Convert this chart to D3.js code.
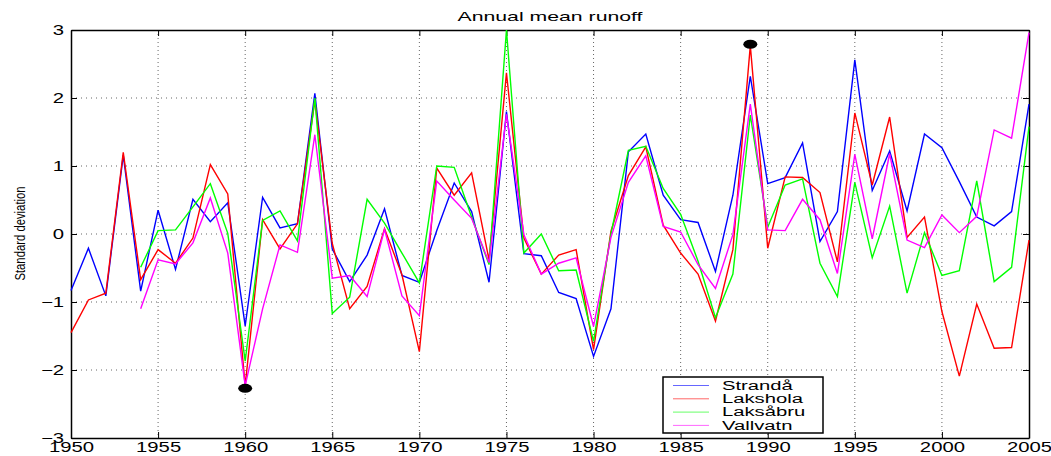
<!DOCTYPE html>
<html>
<head>
<meta charset="utf-8">
<script src="https://cdn.jsdelivr.net/npm/d3@7"></script>
<style>
  html, body { margin: 0; padding: 0; background: #fff; }
  svg { display: block; }
  text { font-family: "Liberation Sans", Arial, sans-serif; }
</style>
</head>
<body>
<svg id="chart" width="1051" height="456"></svg>
<script>
// Annual mean runoff, standardised, for four stations
const strandaYears = d3.range(1950, 2006);
const strandaValues = [
  -0.83, -0.21, -0.91, 1.16, -0.84, 0.35, -0.52, 0.51, 0.18, 0.46,
  -1.35, 0.54, 0.09, 0.15, 2.07, -0.22, -0.70, -0.31, 0.37, -0.61,
  -0.71, 0.05, 0.75, 0.33, -0.71, 1.80, -0.29, -0.32, -0.86, -0.95,
  -1.80, -1.10, 1.21, 1.47, 0.57, 0.21, 0.17, -0.55, 0.57, 2.32,
  0.74, 0.83, 1.34, -0.11, 0.33, 2.56, 0.64, 1.22, 0.34, 1.47,
  1.27, 0.77, 0.25, 0.12, 0.33, 1.91
];

const laksholaYears = d3.range(1950, 2006);
const laksholaValues = [
  -1.45, -0.97, -0.87, 1.20, -0.67, -0.23, -0.43, -0.06, 1.02, 0.59,
  -2.23, 0.21, -0.22, 0.15, 1.96, -0.14, -1.10, -0.77, 0.08, -0.60,
  -1.73, 0.97, 0.57, 0.90, -0.38, 2.37, -0.06, -0.59, -0.31, -0.23,
  -1.70, 0.04, 0.86, 1.28, 0.13, -0.28, -0.59, -1.28, -0.23, 2.77,
  -0.21, 0.84, 0.83, 0.61, -0.41, 1.78, 0.72, 1.72, -0.05, 0.25,
  -1.14, -2.09, -1.03, -1.68, -1.67, -0.09
];

const laksabruYears = d3.range(1954, 2006);
const laksabruValues = [
  -0.49, 0.05, 0.06, 0.40, 0.74, 0.01,
  -1.87, 0.20, 0.34, -0.10, 2.00, -1.17, -0.93, 0.51, 0.16, -0.28,
  -0.72, 1.00, 0.98, 0.25, -0.45, 3.00, -0.28, 0.00, -0.54, -0.53,
  -1.58, 0.00, 1.23, 1.29, 0.67, 0.29, -0.40, -1.23, -0.59, 1.75,
  0.10, 0.72, 0.81, -0.43, -0.92, 0.76, -0.35, 0.41, -0.87, 0.02,
  -0.61, -0.54, 0.78, -0.70, -0.49, 1.58
];

const vallvatnYears = d3.range(1954, 2006);
const vallvatnValues = [
  -1.10, -0.38, -0.44, -0.13, 0.53, -0.28,
  -2.23, -1.10, -0.16, -0.27, 1.46, -0.65, -0.61, -0.92, 0.07, -0.91,
  -1.20, 0.78, 0.50, 0.23, -0.42, 1.76, -0.01, -0.59, -0.43, -0.35,
  -1.36, -0.05, 0.76, 1.15, 0.11, 0.03, -0.45, -0.80, -0.01, 1.91,
  0.06, 0.05, 0.51, 0.21, -0.58, 1.17, -0.07, 1.18, -0.09, -0.20,
  0.28, 0.02, 0.26, 1.53, 1.41, 2.96
];

const seriesNames = ["Strandå", "Lakshola", "Laksåbru", "Vallvatn"];
const seriesColors = ["#0000ff", "#ff0000", "#00ff00", "#ff00ff"];

// Highlighted extremes
const extremeYears = [1960, 1989];
const extremeValues = [-2.27, 2.79];

const xTicks = [1950, 1955, 1960, 1965, 1970, 1975, 1980, 1985, 1990, 1995, 2000, 2005];
const yTicks = [-3, -2, -1, 0, 1, 2, 3];

const series = [
  { name: seriesNames[0], color: seriesColors[0], years: strandaYears, values: strandaValues },
  { name: seriesNames[1], color: seriesColors[1], years: laksholaYears, values: laksholaValues },
  { name: seriesNames[2], color: seriesColors[2], years: laksabruYears, values: laksabruValues },
  { name: seriesNames[3], color: seriesColors[3], years: vallvatnYears, values: vallvatnValues }
];

const svg = d3.select("#chart");
const margin = { left: 71, right: 22, top: 30, bottom: 18 };
const W = 1051, H = 456;
const iw = W - margin.left - margin.right;
const ih = H - margin.top - margin.bottom;

// The lettering is set in a horizontally widened face
const tickStretch = 1.45;
const legendStretch = 1.62;
const titleStretch = 1.7;

const x = d3.scaleLinear().domain([1950, 2005]).range([0, iw]);
const y = d3.scaleLinear().domain([-3, 3]).range([ih, 0]);

const g = svg.append("g").attr("transform", `translate(${margin.left},${margin.top})`);

// Dotted grid
g.append("g").selectAll("line").data(xTicks.slice(1, -1)).join("line")
  .attr("x1", d => x(d)).attr("x2", d => x(d))
  .attr("y1", 0).attr("y2", ih)
  .attr("stroke", "#666").attr("stroke-width", 1).attr("stroke-dasharray", "1,3");
g.append("g").selectAll("line").data(yTicks.slice(1, -1)).join("line")
  .attr("x1", 0).attr("x2", iw)
  .attr("y1", d => y(d)).attr("y2", d => y(d))
  .attr("stroke", "#666").attr("stroke-width", 1).attr("stroke-dasharray", "1,4");

// Axes with inward ticks on all four sides
const axB = d3.axisBottom(x).tickValues(xTicks).tickFormat(d3.format("d")).tickSizeInner(-6).tickSizeOuter(0).tickPadding(4);
const axL = d3.axisLeft(y).tickValues(yTicks).tickFormat(d => d < 0 ? "\u2212" + Math.abs(d) : d).tickSizeInner(-6).tickSizeOuter(0).tickPadding(7);
const axT = d3.axisTop(x).tickValues(xTicks).tickFormat("").tickSizeInner(-6).tickSizeOuter(0);
const axR = d3.axisRight(y).tickValues(yTicks).tickFormat("").tickSizeInner(-6).tickSizeOuter(0);

const gb = g.append("g").attr("transform", `translate(0,${ih})`).call(axB);
const gl = g.append("g").call(axL);
const gt = g.append("g").call(axT);
const gr = g.append("g").attr("transform", `translate(${iw},0)`).call(axR);

[gb, gl, gt, gr].forEach(a => {
  a.select(".domain").attr("stroke", "#000").attr("stroke-width", 1.5);
  a.selectAll(".tick line").attr("stroke", "#000").attr("stroke-width", 1);
  a.selectAll(".tick text").attr("fill", "#000").style("font-size", "14px")
    .style("font-family", "'Liberation Sans', Arial, sans-serif");
});
// widen tick lettering about its anchor point
gb.selectAll(".tick text").attr("transform", `scale(${tickStretch},1)`);
gl.selectAll(".tick text").each(function () {
  const t = d3.select(this);
  t.attr("x", +t.attr("x") / tickStretch).attr("transform", `scale(${tickStretch},1)`);
});

// Series lines
const line = d3.line().x(d => x(d[0])).y(d => y(d[1]));
g.append("g").selectAll("path").data(series).join("path")
  .attr("d", s => line(s.years.map((yr, i) => [yr, s.values[i]])))
  .attr("fill", "none")
  .attr("stroke", s => s.color)
  .attr("stroke-width", 1.4)
  .attr("stroke-linejoin", "miter");

// Extreme markers
g.append("g").selectAll("ellipse").data(extremeYears).join("ellipse")
  .attr("cx", d => x(d))
  .attr("cy", (d, i) => y(extremeValues[i]))
  .attr("rx", 7).attr("ry", 4.5)
  .attr("fill", "#000");

// Title
svg.append("text")
  .attr("transform", `translate(${margin.left + iw / 2},${21}) scale(${titleStretch},1)`)
  .attr("text-anchor", "middle")
  .style("font-size", "12.5px")
  .text("Annual mean runoff");

// Y-axis label (narrow lettering)
svg.append("text")
  .attr("transform", `translate(25,${margin.top + ih / 2 - 0.5}) rotate(-90) scale(0.73,1)`)
  .attr("text-anchor", "middle")
  .style("font-size", "15.5px")
  .text("Standard deviation");

// Legend
const lg = svg.append("g").attr("transform", "translate(663,377)");
lg.append("rect").attr("width", 160).attr("height", 56)
  .attr("fill", "#fff").attr("stroke", "#000").attr("stroke-width", 1.5);
const items = lg.selectAll("g.item").data(series).join("g")
  .attr("class", "item")
  .attr("transform", (d, i) => `translate(0,${8.5 + i * 13.3})`);
items.append("line").attr("x1", 10).attr("x2", 46).attr("y1", 0).attr("y2", 0)
  .attr("stroke", d => d.color).attr("stroke-width", 1).attr("stroke-opacity", 0.6);
items.append("text")
  .attr("transform", `translate(59,4.2) scale(${legendStretch},1)`)
  .style("font-size", "12.5px")
  .text(d => d.name);
</script>
</body>
</html>
